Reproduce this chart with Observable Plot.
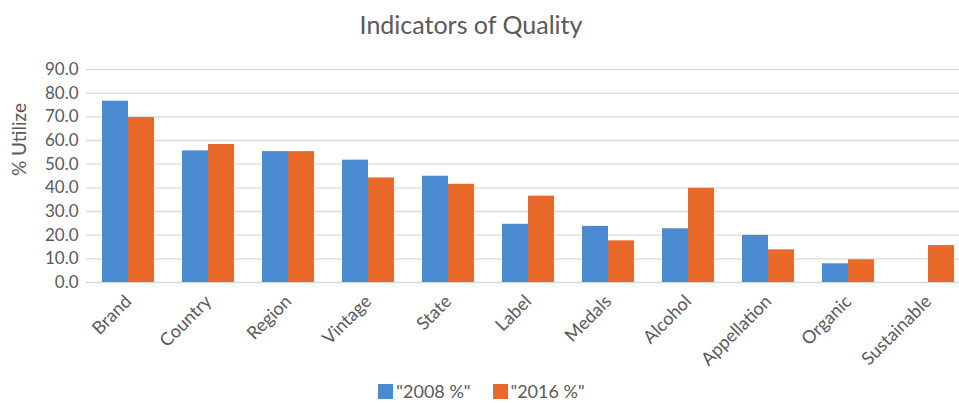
<!DOCTYPE html>
<html>
<head>
<meta charset="utf-8">
<script src="https://cdn.jsdelivr.net/npm/d3@7"></script>
<script src="https://cdn.jsdelivr.net/npm/@observablehq/plot@0.6"></script>
<style>
  html, body { margin: 0; padding: 0; background: #fff; overflow: hidden; }
  #wrap { position: relative; width: 959px; height: 403px; font-family: Lato, "Open Sans", sans-serif; }
  #title { position: absolute; top: 9px; left: 0; width: 942px; text-align: center; font-size: 25px; color: #595959; }
  #legend { position: absolute; top: 380px; left: 0; width: 963px; display: flex; justify-content: center; gap: 22px; font-size: 18px; color: #595959; }
  #legend .item { display: flex; align-items: center; gap: 3px; }
  #legend .sw { width: 15px; height: 15px; display: inline-block; }
  #chart { position: absolute; top: 0; left: 0; }
</style>
</head>
<body>
<div id="wrap">
  <div id="chart"></div>
  <div id="title"></div>
  <div id="legend"></div>
</div>
<script>
const titleText = "Indicators of Quality";
const yLabel = "% Utilize";
const categories = ["Brand", "Country", "Region", "Vintage", "State", "Label", "Medals", "Alcohol", "Appellation", "Organic", "Sustainable"];
const seriesNames = ['"2008 %"', '"2016 %"'];
const values2008 = [76.6, 55.6, 55.3, 51.7, 44.9, 24.6, 23.7, 22.7, 19.9, 7.9, null];
const values2016 = [69.7, 58.3, 55.3, 44.2, 41.5, 36.5, 17.6, 39.8, 13.8, 9.6, 15.6];
const yTicks = [0, 10, 20, 30, 40, 50, 60, 70, 80, 90];
const colors = ["#4a8ad0", "#e8692a"];

const rows2008 = categories.map((c, i) => ({category: c, series: seriesNames[0], value: values2008[i]})).filter(d => d.value != null);
const rows2016 = categories.map((c, i) => ({category: c, series: seriesNames[1], value: values2016[i]})).filter(d => d.value != null);

document.getElementById("title").textContent = titleText;
const legend = document.getElementById("legend");
seriesNames.forEach((s, i) => {
  const item = document.createElement("div");
  item.className = "item";
  const sw = document.createElement("span");
  sw.className = "sw";
  sw.style.background = colors[i];
  const t = document.createElement("span");
  t.textContent = s;
  item.appendChild(sw);
  item.appendChild(t);
  legend.appendChild(item);
});

const halfBand = 26;

const chart = Plot.plot({
  width: 959,
  height: 403,
  marginTop: 69,
  marginBottom: 121,
  marginLeft: 86,
  marginRight: 0,
  style: {fontFamily: "Lato, 'Open Sans', sans-serif", color: "#595959", background: "transparent", overflow: "visible"},
  x: {type: "band", domain: categories, range: [86, 970], paddingInner: 0.353, paddingOuter: 0.1765},
  y: {domain: [0, 90]},
  color: {domain: seriesNames, range: colors},
  marks: [
    Plot.ruleY(yTicks, {stroke: "#d9d9d9", strokeWidth: 1.3}),
    Plot.barY(rows2008, {x: "category", y: "value", fill: "series", insetRight: halfBand}),
    Plot.barY(rows2016, {x: "category", y: "value", fill: "series", insetLeft: halfBand}),
    Plot.axisY({ticks: yTicks, tickFormat: d => d.toFixed(1), tickSize: 0, tickPadding: 8, fontSize: 17, fill: "#595959", label: null}),
    Plot.text([yLabel], {frameAnchor: "left", dx: -67, rotate: -90, fontSize: 19, fill: "#595959"}),
    Plot.axisX({tickSize: 0, tickPadding: 16, tickRotate: -45, fontSize: 18, fill: "#595959", label: null})
  ]
});
document.getElementById("chart").appendChild(chart);
</script>
</body>
</html>
